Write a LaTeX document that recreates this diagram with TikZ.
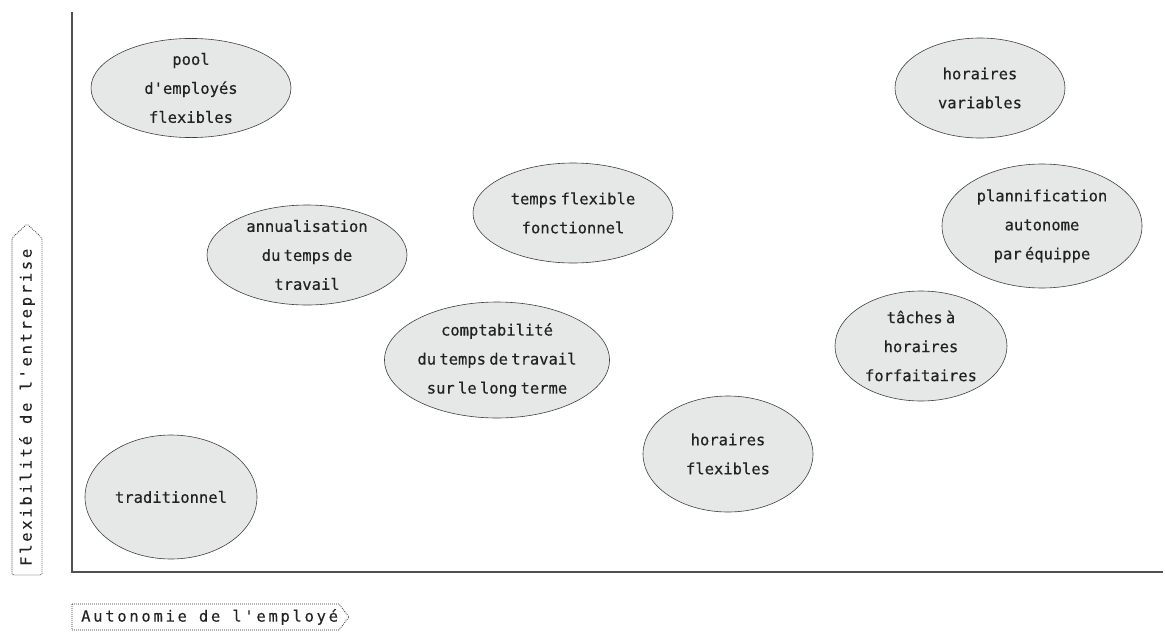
\documentclass[tikz,border=0pt]{standalone}
\usepackage{fontspec}
\newfontfamily\elfont[WordSpace=0.35,FakeBold=0.3]{DejaVu Sans Mono}
\newfontfamily\axfont[LetterSpace=17.5,FakeBold=0.2]{DejaVu Sans Mono}
\usetikzlibrary{shapes.geometric}
\definecolor{efill}{HTML}{E6E7E7}
\definecolor{eline}{HTML}{404040}
\definecolor{axline}{HTML}{505050}
\definecolor{txt}{HTML}{222222}
\begin{document}
\begin{tikzpicture}[x=1pt,y=-1pt,
  bubble/.style={ellipse, draw=eline, fill=efill, line width=0.6pt, inner sep=0pt,
    align=center, text=txt, font=\elfont\fontsize{15.5}{29}\selectfont},
  axlabel/.style={inner sep=0pt, text=txt, font=\axfont\fontsize{15.5}{18}\selectfont},
  axis/.style={draw=axline, line width=1.4pt},
  dotbox/.style={draw=txt, line width=0.8pt, dash pattern=on 0.8pt off 1.2pt}]
\useasboundingbox (0,0) rectangle (1165,632);

% axes
\coordinate (top) at (72,12);
\coordinate (origin) at (72,572);
\coordinate (right) at (1163,572);
\draw[axis] (top) -- (origin) -- (right);

% ellipses
\node[bubble, minimum width=200pt, minimum height=96pt] (pool) at (191,88) {pool\\d'employés\\flexibles};
\node[bubble, minimum width=170pt, minimum height=100pt] (hvar) at (980,88) {horaires\\variables};
\node[bubble, minimum width=200pt, minimum height=100pt] (tflex) at (573,213) {temps flexible\\fonctionnel};
\node[bubble, minimum width=200pt, minimum height=100pt] (annual) at (307,255) {annualisation\\du temps de\\travail};
\node[bubble, minimum width=200pt, minimum height=124pt] (plann) at (1042,226) {plannification\\autonome\\par équippe};
\node[bubble, minimum width=186pt, minimum height=116pt] (compt) at (497,360) {comptabilité\\du temps de travail\\sur le long terme};
\node[bubble, minimum width=172pt, minimum height=110pt] (taches) at (921,346) {tâches à\\horaires\\forfaitaires};
\node[bubble, minimum width=170pt, minimum height=116pt] (hflex) at (728,454) {horaires\\flexibles};
\node[bubble, minimum width=172pt, minimum height=124pt] (trad) at (171,497) {traditionnel};

% axis labels
\node[axlabel, anchor=west] (xl) at (81,617) {Autonomie de l'employé};
\draw[dotbox] (72,604) -- (339,604) -- (349,617) -- (339,630) -- (72,630) -- cycle;

\node[axlabel, rotate=90, anchor=west] (yl) at (27,566) {Flexibilité de l'entreprise};
\draw[dotbox, rounded corners=1.5pt] (12,575) -- (12,238) -- (27,224) -- (42,238) -- (42,575) -- cycle;
\end{tikzpicture}
\end{document}
